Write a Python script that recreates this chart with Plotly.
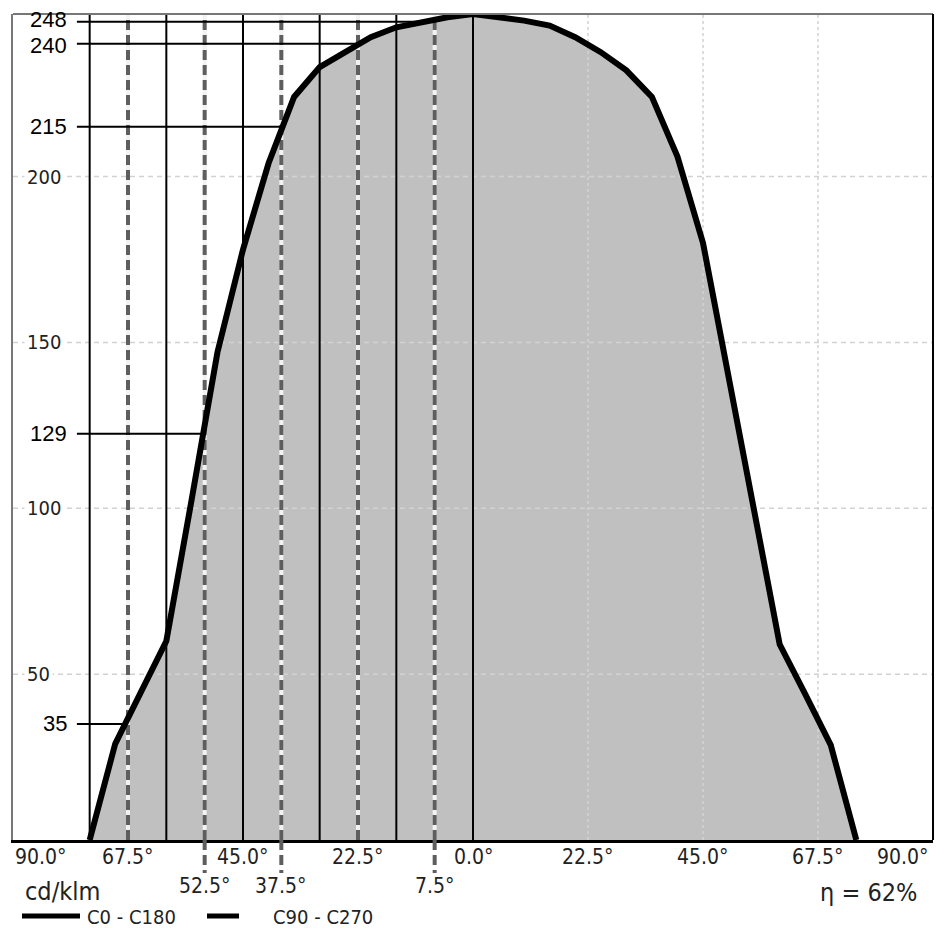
import plotly.graph_objects as go

# ---------------- data ----------------
angles = [-75, -70, -65, -60, -55, -50, -45, -40, -35, -30, -25, -20, -15, -10, -5, 0,
          5, 10, 15, 20, 25, 30, 35, 40, 45, 50, 55, 60, 65, 70, 75]
c0_c180 = [0, 29, 44.5, 60, 103, 147, 178, 204, 224, 233, 237.5, 242, 245, 246.5, 248, 249,
           248, 247, 245.5, 242, 237.5, 232, 224, 206, 180, 140, 100, 59, 44, 28.6, 0]

y_max = 249
ygrid_vals = [50, 100, 150, 200]
ygrid_text = ["50", "100", "150", "200"]
xgrid_vals = [-67.5, -45, -22.5, 22.5, 45, 67.5]

xtick_vals = [-90, -67.5, -45, -22.5, 0, 22.5, 45, 67.5, 90]
xtick_text = ["90.0°", "67.5°", "45.0°", "22.5°", "0.0°", "22.5°", "45.0°", "67.5°", "90.0°"]

c0_lines = [-75, -60, -45, -30, -15, 0]            # solid verticals
c90_lines = [-67.5, -52.5, -37.5, -22.5, -7.5]     # dashed verticals
c90_ext = [-52.5, -37.5, -7.5]                     # dashed lines reaching second label row
c90_text = ["52.5°", "37.5°", "7.5°"]

marker_text = ["248", "240", "215", "129", "35"]
marker_level = [246.7, 240, 215, 122.5, 35]
marker_angle = [-7.5, -22.5, -37.5, -52.5, -67.5]
marker_start = -77.5

eta_text = "η = 62%"
unit_text = "cd/klm"
legend_names = ["C0 - C180", "C90 - C270"]

FONT = "DejaVu Sans Condensed, DejaVu Sans, sans-serif"
BIG = "Liberation Sans, Arial, sans-serif"


def seg_x(xs, y0, y1):
    X, Y = [], []
    for x in xs:
        X += [x, x, None]
        Y += [y0, y1, None]
    return X, Y


fig = go.Figure()

# fill
fig.add_trace(go.Scatter(x=angles, y=c0_c180, mode="lines", fill="tozeroy",
                         fillcolor="#c0c0c0", line=dict(width=0, color="#c0c0c0"),
                         hoverinfo="skip"))

# horizontal grid
gx, gy = [], []
for v in ygrid_vals:
    gx += [-90, 90, None]
    gy += [v, v, None]
fig.add_trace(go.Scatter(x=gx, y=gy, mode="lines",
                         line=dict(color="#d2d2d2", width=1.5, dash="5px,4px"),
                         hoverinfo="skip"))
# vertical grid
vx, vy = seg_x(xgrid_vals, 0, y_max)
fig.add_trace(go.Scatter(x=vx, y=vy, mode="lines",
                         line=dict(color="#d2d2d2", width=1.5, dash="3px,3px"),
                         hoverinfo="skip"))

# solid verticals
sx, sy = seg_x(c0_lines, 0, y_max)
fig.add_trace(go.Scatter(x=sx, y=sy, mode="lines",
                         line=dict(color="black", width=2), hoverinfo="skip"))

# dashed verticals (white underlay + grey dashes)
dx, dy = seg_x(c90_lines, 0, y_max)
fig.add_trace(go.Scatter(x=dx, y=dy, mode="lines",
                         line=dict(color="#f2f2f2", width=4), hoverinfo="skip"))
fig.add_trace(go.Scatter(x=dx, y=dy, mode="lines",
                         line=dict(color="#5e5e5e", width=4, dash="10px,5px"),
                         hoverinfo="skip"))

# horizontal marker lines
mx, my = [], []
for lv, a in zip(marker_level, marker_angle):
    mx += [marker_start, a, None]
    my += [lv, lv, None]
fig.add_trace(go.Scatter(x=mx, y=my, mode="lines",
                         line=dict(color="black", width=2), hoverinfo="skip"))

# curve
fig.add_trace(go.Scatter(x=angles, y=c0_c180, mode="lines",
                         line=dict(color="black", width=6), hoverinfo="skip"))

H = 826.0
W = 920.0


def py(pixel_y):
    return (840 - pixel_y) / H


def px(pixel_x):
    return (pixel_x - 13) / W


ann = []
for v, t in zip(ygrid_vals, ygrid_text):
    ann.append(dict(x=-87.8, y=v, xref="x", yref="y", text=t, showarrow=False,
                    xanchor="left", yanchor="middle", bgcolor="white", borderpad=2,
                    font=dict(family=FONT, size=20, color="#222")))
marker_shift = {"248": 2, "240": -2}
for lv, t in zip(marker_level, marker_text):
    ann.append(dict(x=-79.2, y=lv, xref="x", yref="y", text=t, showarrow=False,
                    xanchor="right", yanchor="middle", borderpad=0,
                    yshift=marker_shift.get(t, 0),
                    font=dict(family=BIG, size=22, color="black")))
for v, t in zip(xtick_vals, xtick_text):
    shift = 28 if v == -90 else (-30 if v == 90 else 0)
    ann.append(dict(x=v, y=py(857), xref="x", yref="paper", text=t, showarrow=False,
                    xanchor="center", yanchor="middle", xshift=shift,
                    font=dict(family=FONT, size=21, color="#222")))
for v, t in zip(c90_ext, c90_text):
    ann.append(dict(x=v, y=py(886), xref="x", yref="paper", text=t, showarrow=False,
                    xanchor="center", yanchor="middle",
                    font=dict(family=FONT, size=21, color="#222")))
ann.append(dict(x=px(23), y=py(891), xref="paper", yref="paper", text=unit_text,
                showarrow=False, xanchor="left", yanchor="middle",
                font=dict(family=FONT, size=25, color="#222")))
ann.append(dict(x=px(919), y=py(892), xref="paper", yref="paper", text=eta_text,
                showarrow=False, xanchor="right", yanchor="middle",
                font=dict(family=FONT, size=25, color="#222")))
ann.append(dict(x=px(85), y=py(917), xref="paper", yref="paper", text=legend_names[0],
                showarrow=False, xanchor="left", yanchor="middle",
                font=dict(family=FONT, size=20, color="#222")))
ann.append(dict(x=px(271), y=py(917), xref="paper", yref="paper", text=legend_names[1],
                showarrow=False, xanchor="left", yanchor="middle",
                font=dict(family=FONT, size=20, color="#222")))

shapes = []
# frame: top (grey), right (black)
shapes.append(dict(type="line", xref="paper", yref="paper", x0=0, x1=1, y0=1, y1=1,
                   line=dict(color="#777", width=2)))
shapes.append(dict(type="line", xref="paper", yref="paper", x0=1, x1=1, y0=0, y1=1,
                   line=dict(color="black", width=2)))
# dashed extensions below axis
for v in c90_ext:
    shapes.append(dict(type="line", xref="x", yref="paper", x0=v, x1=v, y0=0, y1=py(873),
                       line=dict(color="#5e5e5e", width=4, dash="10px,5px")))
# legend swatches
shapes.append(dict(type="line", xref="paper", yref="paper", x0=px(22), x1=px(80),
                   y0=py(916), y1=py(916), line=dict(color="black", width=5)))
shapes.append(dict(type="line", xref="paper", yref="paper", x0=px(207), x1=px(239),
                   y0=py(916), y1=py(916), line=dict(color="black", width=5)))

fig.update_layout(
    width=945, height=943,
    margin=dict(l=13, r=12, t=14, b=103, pad=0),
    paper_bgcolor="white", plot_bgcolor="white",
    showlegend=False,
    xaxis=dict(range=[-90, 90], showgrid=False, zeroline=False, showticklabels=False,
               ticks="", showline=True, linecolor="black", linewidth=3, fixedrange=True),
    yaxis=dict(range=[0, y_max], showgrid=False, zeroline=False, showticklabels=False,
               ticks="", showline=True, linecolor="#777", linewidth=2, fixedrange=True),
    annotations=ann,
    shapes=shapes,
)

fig.write_html("out.html")
